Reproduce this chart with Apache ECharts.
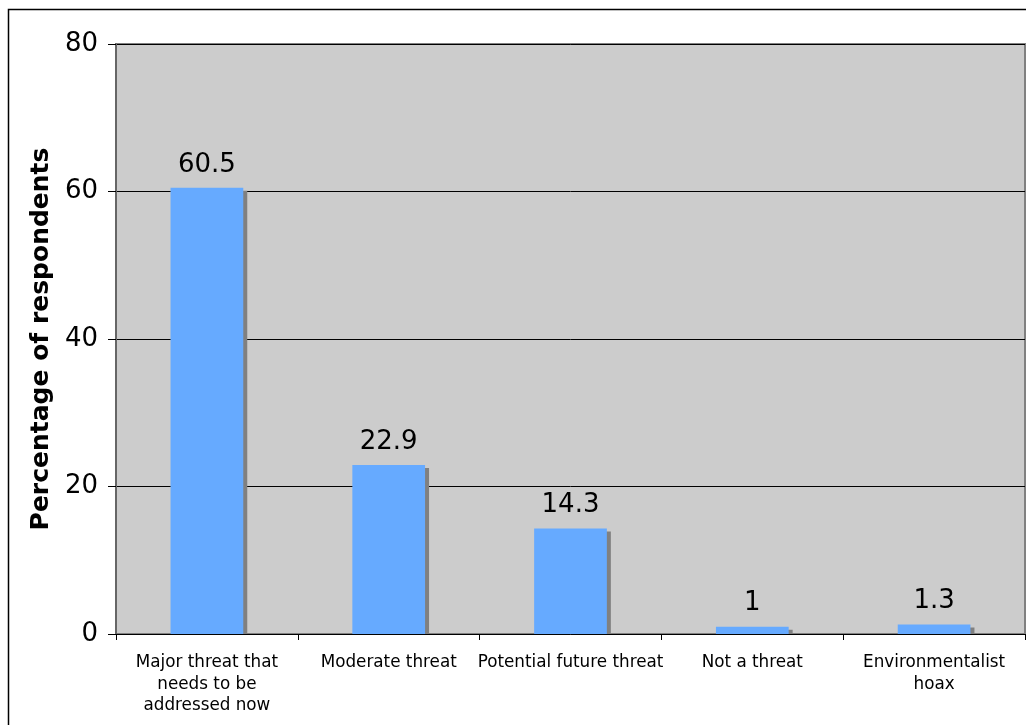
<!DOCTYPE html>
<html>
<head>
<meta charset="utf-8">
<script src="https://cdn.jsdelivr.net/npm/echarts@6/dist/echarts.min.js"></script>
<style>
  html, body { margin: 0; padding: 0; background: #ffffff; }
  #chart { width: 1026px; height: 725px; }
</style>
</head>
<body>
<div id="chart"></div>
<script>
// Survey answers: how serious a threat is climate change
const categories = [
  'Major threat that\nneeds to be\naddressed now',
  'Moderate threat',
  'Potential future threat',
  'Not a threat',
  'Environmentalist\nhoax'
];
const percentages = [60.5, 22.9, 14.3, 1, 1.3];
const yTicks = [0, 20, 40, 60, 80];
const yAxisTitle = 'Percentage of respondents';

const font = '"DejaVu Sans", Verdana, sans-serif';
const chart = echarts.init(document.getElementById('chart'), null, { renderer: 'canvas' });

chart.setOption({
  animation: false,
  backgroundColor: '#ffffff',
  graphic: [
    {
      // outer frame
      type: 'rect',
      shape: { x: 8.5, y: 9.5, width: 1100, height: 800 },
      style: { fill: 'none', stroke: '#000000', lineWidth: 1.5 },
      silent: true
    },
    {
      // trims the bar shadows below the category axis
      type: 'rect',
      z: 5,
      shape: { x: 117, y: 635, width: 909, height: 5 },
      style: { fill: '#ffffff' },
      silent: true
    }
  ],
  grid: {
    left: 116, top: 44, right: 1, bottom: 91,
    show: true,
    backgroundColor: '#cccccc',
    borderColor: '#808080',
    borderWidth: 2
  },
  xAxis: {
    type: 'category',
    data: categories,
    z: 10,
    axisLine: { lineStyle: { color: '#000000', width: 1 } },
    axisTick: { show: true, alignWithLabel: false, length: 6, lineStyle: { color: '#000000' } },
    axisLabel: {
      interval: 0,
      margin: 18,
      fontFamily: font,
      fontSize: 16.8,
      lineHeight: 21.5,
      color: '#000000',
      align: 'center'
    }
  },
  yAxis: {
    type: 'value',
    min: yTicks[0],
    max: yTicks[yTicks.length - 1],
    interval: yTicks[1] - yTicks[0],
    name: yAxisTitle,
    nameLocation: 'middle',
    nameGap: 60,
    nameTextStyle: { fontFamily: font, fontSize: 25, fontWeight: 'bold', color: '#000000' },
    axisLine: { show: true, lineStyle: { color: '#666666', width: 2 } },
    axisTick: { show: true, inside: false, length: 8, lineStyle: { color: '#000000' } },
    axisLabel: { margin: 18, fontFamily: font, fontSize: 26, color: '#000000' },
    splitLine: { show: true, lineStyle: { color: '#000000', width: 1 } }
  },
  series: [{
    type: 'bar',
    data: percentages,
    barWidth: '40%',
    itemStyle: {
      color: '#66aaff',
      shadowColor: '#808080',
      shadowOffsetX: 4,
      shadowOffsetY: 3,
      shadowBlur: 0
    },
    label: {
      show: true,
      position: 'top',
      distance: 10,
      fontFamily: font,
      fontSize: 26,
      color: '#000000'
    }
  }]
});
</script>
</body>
</html>
